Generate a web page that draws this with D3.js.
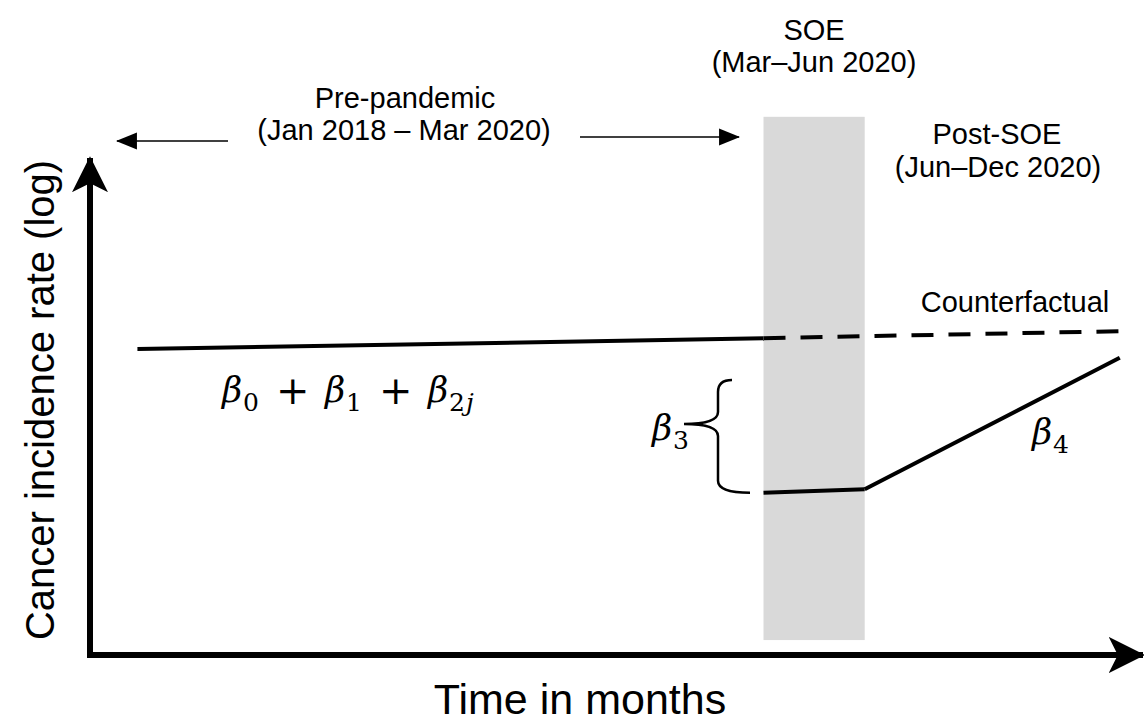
<!DOCTYPE html>
<html>
<head>
<meta charset="utf-8">
<script src="https://cdn.jsdelivr.net/npm/d3@7"></script>
<style>
body { margin: 0; background: #fff; }
text { font-family: "Liberation Sans", Arial, sans-serif; fill: #000; }
.math { font-family: "DejaVu Serif", "Liberation Serif", serif; font-style: italic; }
.sub { font-family: "DejaVu Serif", "Liberation Serif", serif; }
</style>
</head>
<body>
<div id="chart"></div>
<script>
// schematic units, 0..100 on both axes
var preLine = [[4.5, 59.4], [63.9, 61.5]]
var counterfactual = [[63.9, 61.5], [98.2, 62.9]]
var soeLine = [[63.9, 31.5], [73.5, 32.2]]
var postLine = [[73.5, 32.2], [97.7, 57.7]]
var soeBand = [63.9, 73.5]
var bandY = [2.9, 104.5]

var w = 1144, h = 725;
var x = d3.scaleLinear().domain([0, 100]).range([90, 1144]);
var y = d3.scaleLinear().domain([0, 100]).range([655, 140]);

var svg = d3.select("#chart").append("svg")
    .attr("width", w)
    .attr("height", h);

var defs = svg.append("defs");
defs.append("marker")
    .attr("id", "big")
    .attr("viewBox", "0 0 20 20")
    .attr("refX", 19).attr("refY", 10)
    .attr("markerWidth", 6).attr("markerHeight", 6)
    .attr("markerUnits", "strokeWidth")
    .attr("orient", "auto")
    .append("path")
    .attr("d", "M0 0 L20 10 L0 20 L5 10 Z")
    .style("fill", "#000");
defs.append("marker")
    .attr("id", "small")
    .attr("viewBox", "0 0 20 20")
    .attr("refX", 19).attr("refY", 10)
    .attr("markerWidth", 14).attr("markerHeight", 14)
    .attr("markerUnits", "strokeWidth")
    .attr("orient", "auto")
    .append("path")
    .attr("d", "M0 2 L20 10 L0 18 Z")
    .style("fill", "#000");

// grey SOE band
svg.append("rect")
    .attr("x", x(soeBand[0]))
    .attr("width", x(soeBand[1]) - x(soeBand[0]))
    .attr("y", y(bandY[1]))
    .attr("height", y(bandY[0]) - y(bandY[1]))
    .style("fill", "#d9d9d9");

// axes
svg.append("line")
    .attr("x1", 90).attr("y1", 658)
    .attr("x2", 90).attr("y2", 158)
    .attr("stroke", "#000").attr("stroke-width", 6)
    .attr("marker-end", "url(#big)");
svg.append("line")
    .attr("x1", 87).attr("y1", 655)
    .attr("x2", 1143).attr("y2", 655)
    .attr("stroke", "#000").attr("stroke-width", 6)
    .attr("marker-end", "url(#big)");

var line = d3.line().x(d => x(d[0])).y(d => y(d[1]));

[preLine, soeLine, postLine].forEach(function(p) {
    svg.append("path")
        .attr("d", line(p))
        .attr("fill", "none")
        .attr("stroke", "#000")
        .attr("stroke-width", 4);
});
svg.append("path")
    .attr("d", line(counterfactual))
    .attr("fill", "none")
    .attr("stroke", "#000")
    .attr("stroke-width", 4)
    .attr("stroke-dasharray", "22,15");

// small period arrows
svg.append("line")
    .attr("x1", 228).attr("y1", 141).attr("x2", 117).attr("y2", 141)
    .attr("stroke", "#000").attr("stroke-width", 1.5)
    .attr("marker-end", "url(#small)");
svg.append("line")
    .attr("x1", 580).attr("y1", 137).attr("x2", 739).attr("y2", 137)
    .attr("stroke", "#000").attr("stroke-width", 1.5)
    .attr("marker-end", "url(#small)");

// brace for beta 3
var bx = 718, by0 = y(soeLine[0][1]), by1 = 380, bm = 424;
svg.append("path")
    .attr("d", "M" + (bx + 14) + "," + by1 +
        " Q" + bx + "," + by1 + " " + bx + "," + (by1 + 12) +
        " L" + bx + "," + (bm - 12) +
        " Q" + bx + "," + bm + " " + (bx - 34) + "," + bm +
        " Q" + bx + "," + bm + " " + bx + "," + (bm + 12) +
        " L" + bx + "," + (by0 - 12) +
        " Q" + bx + "," + by0 + " " + (bx + 32) + "," + by0)
    .attr("fill", "none")
    .attr("stroke", "#000")
    .attr("stroke-width", 2.5);

function label(t, cx, cy, size) {
    svg.append("text")
        .attr("x", cx).attr("y", cy)
        .attr("text-anchor", "middle")
        .style("font-size", size + "px")
        .text(t);
}
label("SOE", 814, 40, 29);
label("(Mar\u2013Jun 2020)", 814, 72, 29);
label("Pre-pandemic", 405, 108, 29);
label("(Jan 2018 \u2013 Mar 2020)", 404, 140, 29);
label("Post-SOE", 997, 144, 29);
label("(Jun\u2013Dec 2020)", 998, 177, 29);
label("Counterfactual", 1015, 312, 29);
label("Time in months", 580, 714, 43);

svg.append("text")
    .attr("transform", "translate(54,400) rotate(-90)")
    .attr("text-anchor", "middle")
    .style("font-size", "40px")
    .text("Cancer incidence rate (log)");

// math labels
function put(t, xx, yy, cls, size) {
    svg.append("text")
        .attr("class", cls)
        .attr("x", xx).attr("y", yy)
        .style("font-size", size + "px")
        .text(t);
}
put("\u03B2", 222, 402, "math", 35);
put("0", 243, 411, "sub", 25);
put("+", 276, 404, "sub", 40);
put("\u03B2", 325, 402, "math", 35);
put("1", 346, 411, "sub", 25);
put("+", 379, 404, "sub", 40);
put("\u03B2", 428, 402, "math", 35);
put("2", 449, 411, "sub", 25);
put("j", 466, 411, "math", 25);

put("\u03B2", 652, 440, "math", 35);
put("3", 673, 449, "sub", 25);
put("\u03B2", 1032, 444, "math", 35);
put("4", 1053, 453, "sub", 25);
</script>
</body>
</html>
